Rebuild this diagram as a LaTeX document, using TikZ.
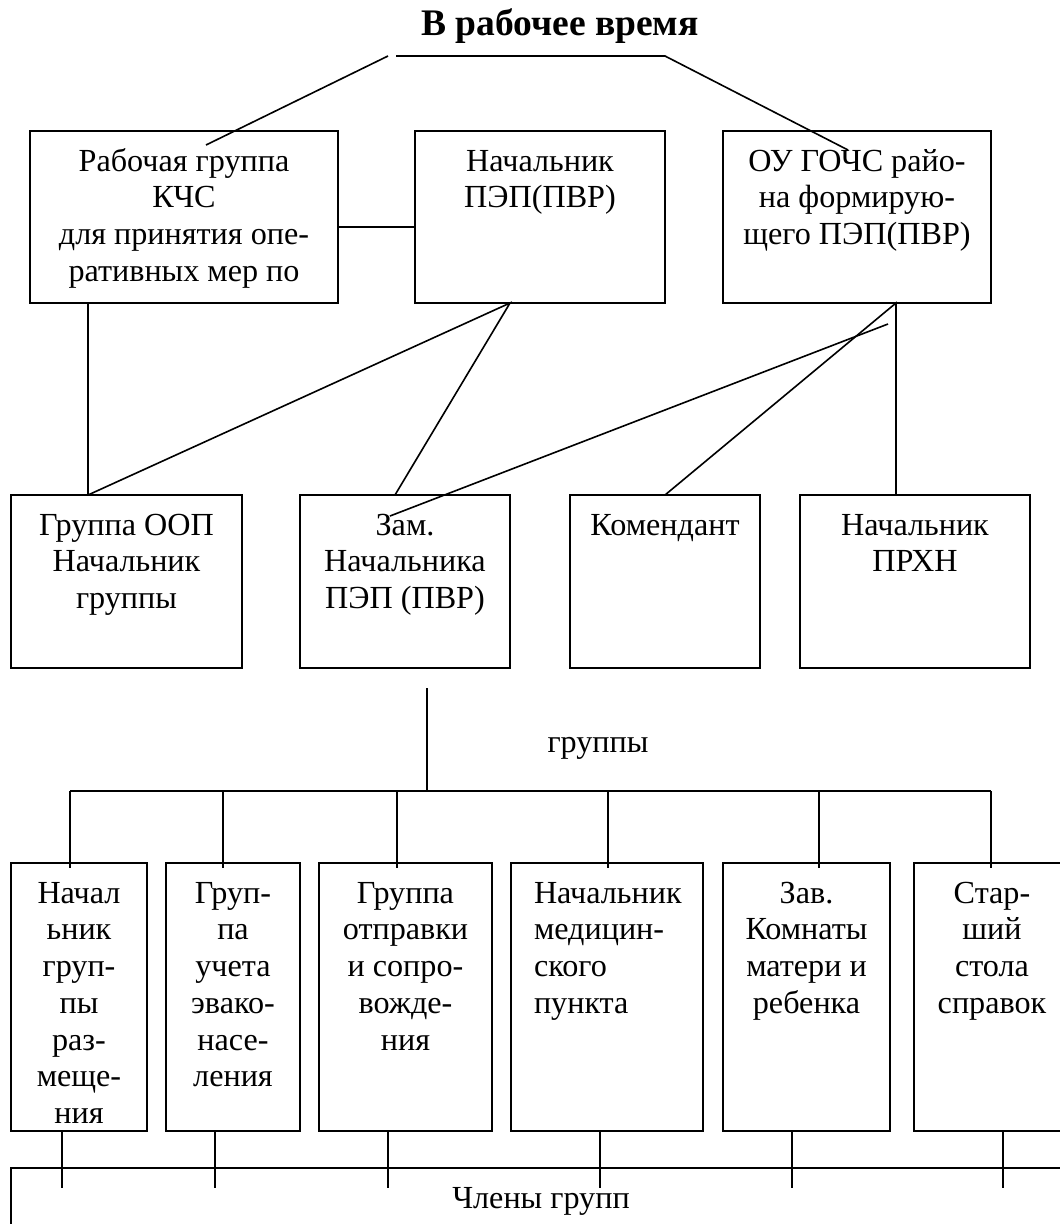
\documentclass[tikz,border=0pt]{standalone}
\usepackage{fontspec}
\setmainfont{Liberation Serif}
\usetikzlibrary{calc, positioning}
\newlength{\px}
\setlength{\px}{0.3731pt}
% box text, set from the top of the box
\newcommand{\cell}[3]{\parbox[t][#2\px][t]{#1\px}{\centering\rule{0pt}{15pt}#3}}
\newcommand{\cellleft}[3]{\parbox[t][#2\px][t]{#1\px}{\raggedright\leftskip=23\px\rule{0pt}{15pt}#3}}
\tikzset{
  box/.style={draw, line width=0.8pt, rectangle, inner sep=0pt, outer sep=0pt, anchor=north west},
  link/.style={line width=0.6pt},
  ttl/.style={font=\fontsize{14pt}{16pt}\selectfont\bfseries, anchor=base, inner sep=0pt}
}

\begin{document}
\begin{tikzpicture}[x=0.3731pt, y=-0.3731pt, font=\fontsize{12pt}{13.7pt}\selectfont]
  \useasboundingbox (0,0) rectangle (1059,1224);
  \node[ttl] (title) at (560,35) {В рабочее время};

  % top row
  \node[box] (kchs) at (30,131) {\cell{308}{172}{Рабочая группа\\КЧС\\для принятия опе-\\ративных мер по}};
  \node[box] (nach) at (415,131) {\cell{250}{172}{Начальник\\ПЭП(ПВР)}};
  \node[box] (ou) at (723,131) {\cell{268}{172}{ОУ ГОЧС райо-\\на формирую-\\щего ПЭП(ПВР)}};

  % second row
  \node[box] (oop) at (11,495) {\cell{231}{173}{Группа ООП\\Начальник\\группы}};
  \node[box] (zam) at (300,495) {\cell{210}{173}{Зам.\\Начальника\\ПЭП (ПВР)}};
  \node[box] (kom) at (570,495) {\cell{190}{173}{Комендант}};
  \node[box] (prxn) at (800,495) {\cell{230}{173}{Начальник\\ПРХН}};

  \node[anchor=base, inner sep=0pt] (grp) at (598,752) {группы};

  % groups
  \node[box] (g1) at (11,863) {\cell{136}{268}{Начал\\ьник\\груп-\\пы\\раз-\\меще-\\ния}};
  \node[box] (g2) at (166,863) {\cell{134}{268}{Груп-\\па\\учета\\эвако-\\насе-\\ления}};
  \node[box] (g3) at (319,863) {\cell{173}{268}{Группа\\отправки\\и сопро-\\вожде-\\ния}};
  \node[box] (g4) at (511,863) {\cellleft{192}{268}{Начальник\\медицин-\\ского\\пункта}};
  \node[box] (g5) at (723,863) {\cell{167}{268}{Зав.\\Комнаты\\матери и\\ребенка}};
  \node[box] (g6) at (914,863) {\cell{156}{268}{Стар-\\ший\\стола\\справок}};

  \node[box] (members) at (11,1168) {\cell{1060}{80}{Члены групп}};

  \coordinate (hubL) at (388,56);
  \coordinate (hubA) at (396,56);
  \coordinate (hubR) at (665,56);
  \coordinate (kchsIn) at (206,145);
  \coordinate (ouIn) at (848,150);
  \coordinate (ouOff) at (888,324);
  \coordinate (zamIn) at (390,516);

  \draw[link] (hubL) -- (kchsIn);
  \draw[link] (hubA) -- (hubR) -- (ouIn);
  \draw[link] ($(kchs.east)+(0,10)$) -- ($(nach.west)+(0,10)$);
  \draw[link] ($(kchs.south west)+(58,0)$) -- ($(oop.north west)+(77,0)$);
  \draw[link] ($(oop.north west)+(77,0)$) -- ($(nach.south west)+(95,0)$) -- ($(zam.north west)+(95,0)$);
  \draw[link] (kom.north) -- ($(ou.south west)+(173,0)$) -- ($(prxn.north west)+(96,0)$);
  \draw[link] (ouOff) -- (zamIn);

  \draw[link] ($(zam.south west)+(127,20)$) -- ($(zam.south west)+(127,123)$);
  \draw[link] ($(g1.north west)+(59,-72)$) -- ($(g6.north west)+(77,-72)$);
  \foreach \g/\dt/\db in {g1/59/51, g2/57/49, g3/78/69, g4/97/89, g5/96/69, g6/77/89}{
    \draw[link] ($(\g.north west)+(\dt,-72)$) -- ($(\g.north west)+(\dt,5)$);
    \draw[link] ($(\g.south west)+(\db,0)$) -- ($(\g.south west)+(\db,57)$);
  };
\end{tikzpicture}
\end{document}
